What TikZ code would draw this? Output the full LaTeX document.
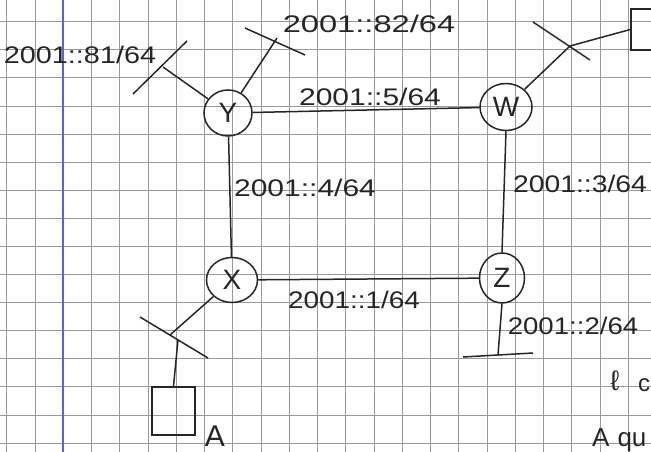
\documentclass[tikz,border=0pt]{standalone}
\usepackage{fontspec}
\setmainfont{Liberation Sans}
\usetikzlibrary{shapes.geometric}
\begin{document}
\begin{tikzpicture}[x=1pt,y=-1pt,
  pen/.style={line width=1.5pt, draw=black!85},
  gridline/.style={line width=0.8pt, draw=black!40},
  marginline/.style={line width=1.8pt, draw={rgb,255:red,95;green,95;blue,225}},
  router/.style={ellipse, pen, inner sep=0pt, text=black!85, font=\fontsize{28}{28}\selectfont},
  boxnode/.style={rectangle, pen, inner sep=0pt},
  lbl/.style={inner sep=0pt, text=black!85, font=\fontsize{24}{24}\selectfont}]
\clip (0,0) rectangle (651,452);
\fill[white] (0,0) rectangle (651,452);
% grid paper
\foreach \k in {0,...,15} \draw[gridline] (0,21.7+28.09*\k) -- (651,21.7+28.09*\k);
\foreach \k in {0,...,23} \draw[gridline] (6.8+28.25*\k,0) -- (6.8+28.25*\k,452);
\draw[marginline] (63.3,0) -- (63.3,452);

% routers
\node[router, minimum width=48pt, minimum height=46pt] (Y) at (228,113) {Y};
\node[router, minimum width=52pt, minimum height=47pt] (W) at (506,107) {W};
\node[router, minimum width=51pt, minimum height=45pt] (X) at (232,280) {X};
\node[router, minimum width=45pt, minimum height=50pt] (Z) at (502,278) {Z};

% hosts
\node[boxnode, draw, minimum width=43pt, minimum height=48pt] (A) at (173.5,411) {};
\node[boxnode, draw, minimum width=40pt, minimum height=41pt] (B) at (651,29.5) {};

% subnet coordinates
\coordinate (c81) at (163,67);  \coordinate (s81a) at (133,94);  \coordinate (s81b) at (187,41);
\coordinate (c82) at (277,38);  \coordinate (s82a) at (245,28);  \coordinate (s82b) at (305,55);
\coordinate (cW) at (570,46);   \coordinate (sWa) at (533,22);   \coordinate (sWb) at (590,60);
\coordinate (cX) at (170,335);  \coordinate (cXd) at (178,340);
\coordinate (sXa) at (140,317); \coordinate (sXb) at (208,358);
\coordinate (cZ) at (498,355);  \coordinate (sZa) at (463,357);  \coordinate (sZb) at (533,353);

% subnet segments
\draw[pen] (s81a) -- (s81b);
\draw[pen] (s82a) -- (s82b);
\draw[pen] (sWa) -- (sWb);
\draw[pen] (sXa) -- (sXb);
\draw[pen] (sZa) -- (sZb);

% links
\draw[pen] (Y) -- (W);
\draw[pen] (Y) -- (X);
\draw[pen] (X) -- (Z);
\draw[pen] (W.south) -- (Z.north);
\draw[pen] (Y) -- (c81);
\draw[pen] (Y) -- (c82);
\draw[pen] (W) -- (cW);
\draw[pen] (cW) -- (B.west);
\draw[pen] (X) -- (cX);
\draw[pen] (cXd) -- (A.north);
\draw[pen] (Z.south) -- (cZ);

% labels
\node[lbl] (l81) at (80,55) {\scalebox{1.2}[1]{2001::81/64}};
\node[lbl] (l82) at (369,24) {\scalebox{1.36}[1]{2001::82/64}};
\node[lbl] (l5) at (370,97) {\scalebox{1.25}[1]{2001::5/64}};
\node[lbl] (l4) at (305,188) {\scalebox{1.25}[1]{2001::4/64}};
\node[lbl] (l3) at (580,184) {\scalebox{1.18}[1]{2001::3/64}};
\node[lbl] (l1) at (354,300) {\scalebox{1.16}[1]{2001::1/64}};
\node[lbl] (l2) at (573,326) {\scalebox{1.15}[1]{2001::2/64}};
\node[lbl, font=\fontsize{30}{30}\selectfont] (lA) at (215,436) {A};
\node[lbl, font=\fontsize{28}{28}\selectfont] (lell) at (615,381) {ℓ};
\node[lbl, anchor=west] (lc) at (638,385) {c};
\node[lbl, anchor=base west, font=\fontsize{26}{26}\selectfont] (lAqu) at (592,446) {A\hspace{8pt}qu};
\end{tikzpicture}
\end{document}
